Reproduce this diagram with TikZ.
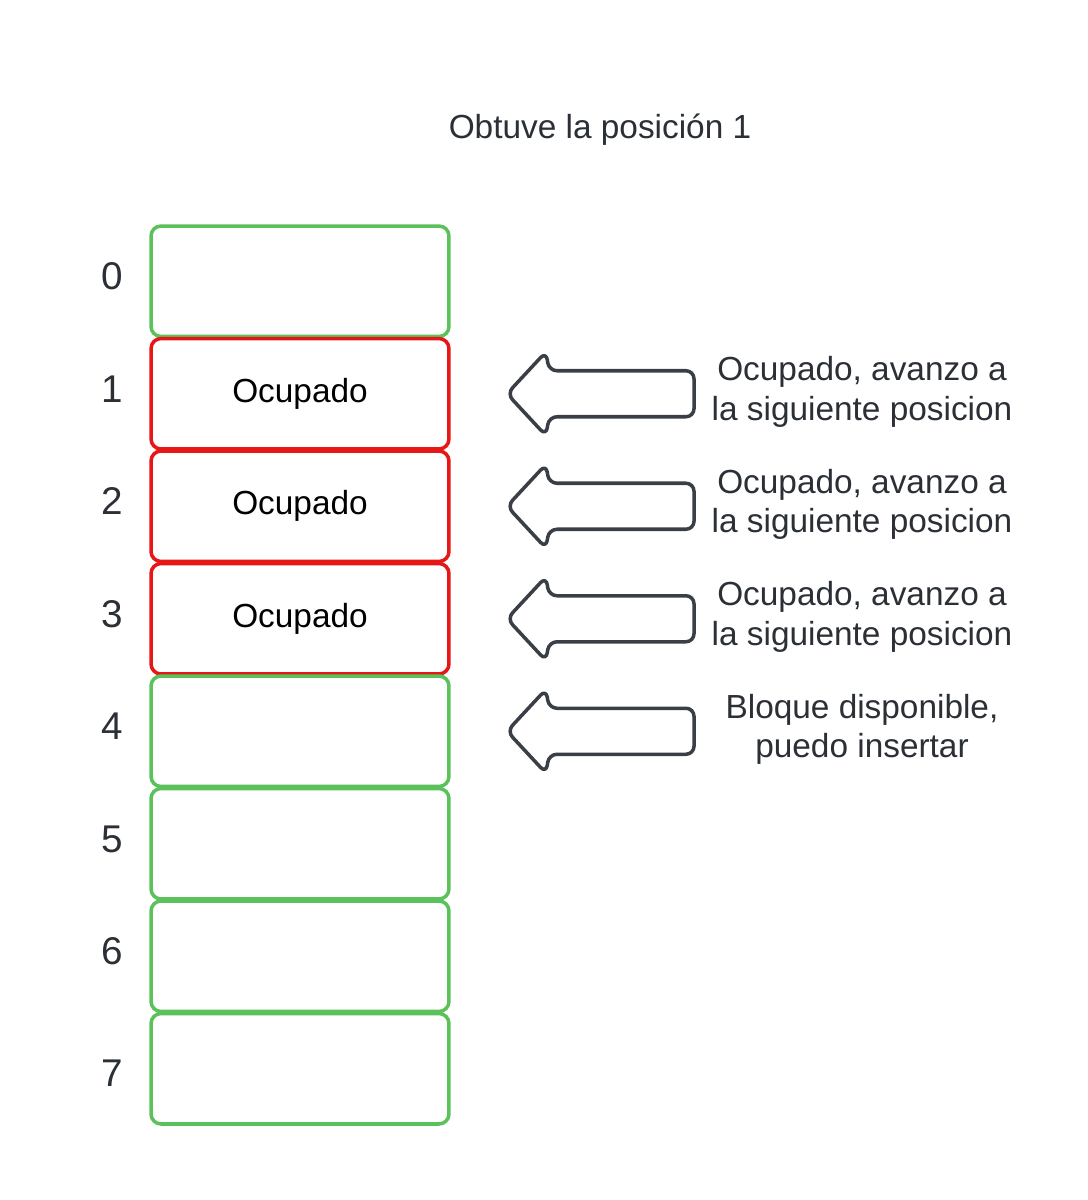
\documentclass[tikz,border=0pt]{standalone}
\usepackage{fontspec}
\setmainfont{Liberation Sans}
\usetikzlibrary{positioning}
\definecolor{verdelibre}{HTML}{5BC25B}
\definecolor{rojoocup}{HTML}{E81717}
\definecolor{tinta}{HTML}{2B2F36}
\definecolor{gris}{HTML}{3A3F47}
\tikzset{
    cell/.style = {
        draw,
        shape=rectangle,
        rounded corners=0.2cm,
        minimum width=5.96cm,
        minimum height=2.21cm,
        inner sep=0pt,
        line width=2pt,
        font=\fontsize{19}{22}\selectfont
    },
    cellibre/.style = {cell, draw=verdelibre},
    cellocup/.style = {cell, draw=rojoocup},
    indice/.style = {
        text=tinta,
        font=\fontsize{22}{26}\selectfont
    },
    nota/.style = {
        text=tinta,
        align=center,
        font=\fontsize{19}{22.5}\selectfont
    },
    flechas/.style = {
        draw=gris,
        line width=2pt,
        rounded corners=0.16cm,
        line join=round
    }
}
\begin{document}
\begin{tikzpicture}[x=0.02cm, y=-0.02cm]
        \useasboundingbox (0,0) rectangle (1088,1200);
        \node[nota] (titulo) at (600,130) {Obtuve la posición 1};

        % tabla de bloques
        \foreach \i/\est/\txt/\yi in {0/cellibre//276, 1/cellocup/Ocupado/389, 2/cellocup/Ocupado/501,
            3/cellocup/Ocupado/614, 4/cellibre//726, 5/cellibre//839, 6/cellibre//951, 7/cellibre//1073} {
            \node[\est] (cell\i) at (300, 281.25+112.5*\i) {\txt};
            \node[indice] (idx\i) at (112, \yi) {\i};
        }

        % flechas de sondeo
        \foreach \i in {1,...,4} {
            \coordinate (pt\i) at (507, 281.25+112.5*\i);
            \path[flechas] (pt\i) -- ++(39,-42) -- ++(3,19) -- ++(145,0) -- ++(0,46)
                -- ++(-145,0) -- ++(-3,19) -- cycle;
        }
        \node[nota] (nota1) at (862, 392) {Ocupado, avanzo a\\la siguiente posicion};
        \node[nota] (nota2) at (862, 504.5) {Ocupado, avanzo a\\la siguiente posicion};
        \node[nota] (nota3) at (862, 617) {Ocupado, avanzo a\\la siguiente posicion};
        \node[nota] (nota4) at (862, 729.5) {Bloque disponible,\\puedo insertar};
    \end{tikzpicture}
\end{document}
